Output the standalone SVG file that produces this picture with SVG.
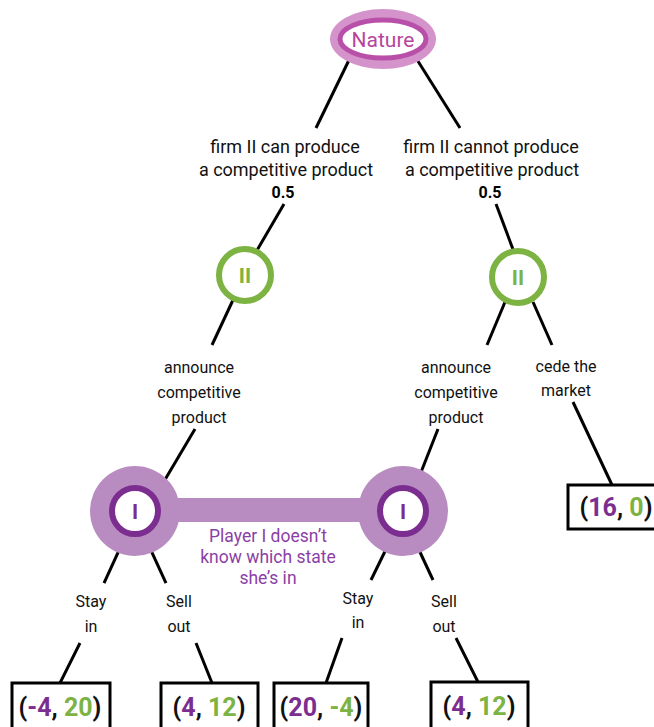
<svg xmlns="http://www.w3.org/2000/svg" width="654" height="727" viewBox="0 0 654 727">
<style>
text{font-family:Roboto,"Liberation Sans",sans-serif}
.lbl{font-size:16px;fill:#111;text-anchor:middle}
.lbl2{font-size:18px;fill:#111;text-anchor:middle}
.prob{font-size:16px;font-weight:bold;fill:#000;text-anchor:middle}
.edge{stroke:#000;stroke-width:3;fill:none}
.box{fill:#fff;stroke:#000;stroke-width:3}
.pay{font-size:25px;font-weight:bold;text-anchor:middle;fill:#111}
.p1{fill:#7b2d90}
.p2{fill:#7cb342}
.ii{fill:#fff;stroke:#7cb342;stroke-width:6}
.iit{font-size:21px;font-weight:bold;fill:#7cb342;text-anchor:middle}
.iout{fill:#b98cc1}
.iring{fill:#fff;stroke:#7b2d90;stroke-width:6}
.it{font-size:21px;font-weight:bold;fill:#7b2d90;text-anchor:middle}
.info{font-size:17.5px;fill:#8b3fa6;text-anchor:middle}
</style>
<rect width="654" height="727" fill="#fff"/>
<g id="connectors">
<line class="edge" x1="350" y1="58" x2="316" y2="128"/>
<line class="edge" x1="416" y1="58" x2="460" y2="128"/>
<line class="edge" x1="284" y1="204" x2="256" y2="252"/>
<line class="edge" x1="496" y1="204" x2="514" y2="252"/>
<line class="edge" x1="233" y1="300" x2="212" y2="345"/>
<line class="edge" x1="505" y1="302" x2="487" y2="345"/>
<line class="edge" x1="533" y1="302" x2="552" y2="345"/>
<line class="edge" x1="195" y1="429" x2="150" y2="505"/>
<line class="edge" x1="438" y1="429" x2="414" y2="490"/>
<line class="edge" x1="573" y1="402" x2="612" y2="485"/>
<line class="edge" x1="126" y1="535" x2="104" y2="583"/>
<line class="edge" x1="144" y1="535" x2="166" y2="583"/>
<line class="edge" x1="393" y1="535" x2="371" y2="580"/>
<line class="edge" x1="412" y1="535" x2="433" y2="580"/>
<line class="edge" x1="80" y1="643" x2="60" y2="683"/>
<line class="edge" x1="196" y1="643" x2="212" y2="683"/>
<line class="edge" x1="342" y1="638" x2="326" y2="683"/>
<line class="edge" x1="456" y1="638" x2="478" y2="682"/>
</g>
<g id="nature">
<ellipse cx="383" cy="39" rx="53" ry="30" fill="#d593cb"/>
<ellipse cx="383" cy="39" rx="43" ry="19" fill="#fff" stroke="#b84fa8" stroke-width="5"/>
<text x="383" y="47" font-size="21" fill="#b5469e" text-anchor="middle">Nature</text>
</g>
<g id="labels-nature">
<text class="lbl2" x="285" y="153">firm II can produce</text>
<text class="lbl2" x="286" y="176">a competitive product</text>
<text class="prob" x="283" y="198">0.5</text>
<text class="lbl2" x="491" y="153">firm II cannot produce</text>
<text class="lbl2" x="492" y="176">a competitive product</text>
<text class="prob" x="490" y="198">0.5</text>
</g>
<g id="II-left">
<circle class="ii" cx="245" cy="275" r="26"/>
<text class="iit" x="245" y="283">II</text>
</g>
<g id="II-right">
<circle class="ii" cx="518" cy="277" r="26"/>
<text class="iit" x="518" y="285">II</text>
</g>
<g id="labels-II">
<text class="lbl" x="199" y="373">announce</text>
<text class="lbl" x="199" y="398">competitive</text>
<text class="lbl" x="199" y="423">product</text>
<text class="lbl" x="456" y="373">announce</text>
<text class="lbl" x="456" y="398">competitive</text>
<text class="lbl" x="456" y="423">product</text>
<text class="lbl" x="566" y="372">cede the</text>
<text class="lbl" x="566" y="396">market</text>
</g>
<g id="info-set">
<rect class="iout" x="170" y="498" width="200" height="24"/>
<text class="info" x="268" y="542">Player I doesn’t</text>
<text class="info" x="268" y="563">know which state</text>
<text class="info" x="268" y="584">she’s in</text>
</g>
<g id="I-left">
<circle class="iout" cx="135" cy="511" r="45"/>
<circle class="iring" cx="135" cy="511" r="23"/>
<text class="it" x="135" y="519">I</text>
</g>
<g id="I-right">
<circle class="iout" cx="403" cy="511" r="45"/>
<circle class="iring" cx="403" cy="511" r="23"/>
<text class="it" x="403" y="519">I</text>
</g>
<g id="labels-I">
<text class="lbl" x="91" y="607">Stay</text>
<text class="lbl" x="91" y="632">in</text>
<text class="lbl" x="179" y="607">Sell</text>
<text class="lbl" x="179" y="632">out</text>
<text class="lbl" x="358" y="604">Stay</text>
<text class="lbl" x="358" y="628">in</text>
<text class="lbl" x="444" y="607">Sell</text>
<text class="lbl" x="444" y="632">out</text>
</g>
<g id="pay-16-0">
<rect class="box" x="568" y="485" width="100" height="44"/>
<text class="pay" x="616" y="516">(<tspan class="p1">16</tspan>, <tspan class="p2">0</tspan>)</text>
</g>
<g id="pay-m4-20">
<rect class="box" x="12" y="683" width="98" height="50"/>
<text class="pay" x="60" y="716">(<tspan class="p1">-4</tspan>, <tspan class="p2">20</tspan>)</text>
</g>
<g id="pay-4-12-a">
<rect class="box" x="161" y="683" width="97" height="50"/>
<text class="pay" x="209" y="716">(<tspan class="p1">4</tspan>, <tspan class="p2">12</tspan>)</text>
</g>
<g id="pay-20-m4">
<rect class="box" x="274" y="683" width="94" height="50"/>
<text class="pay" x="321" y="716">(<tspan class="p1">20</tspan>, <tspan class="p2">-4</tspan>)</text>
</g>
<g id="pay-4-12-b">
<rect class="box" x="431" y="682" width="97" height="50"/>
<text class="pay" x="479" y="715">(<tspan class="p1">4</tspan>, <tspan class="p2">12</tspan>)</text>
</g>
</svg>
